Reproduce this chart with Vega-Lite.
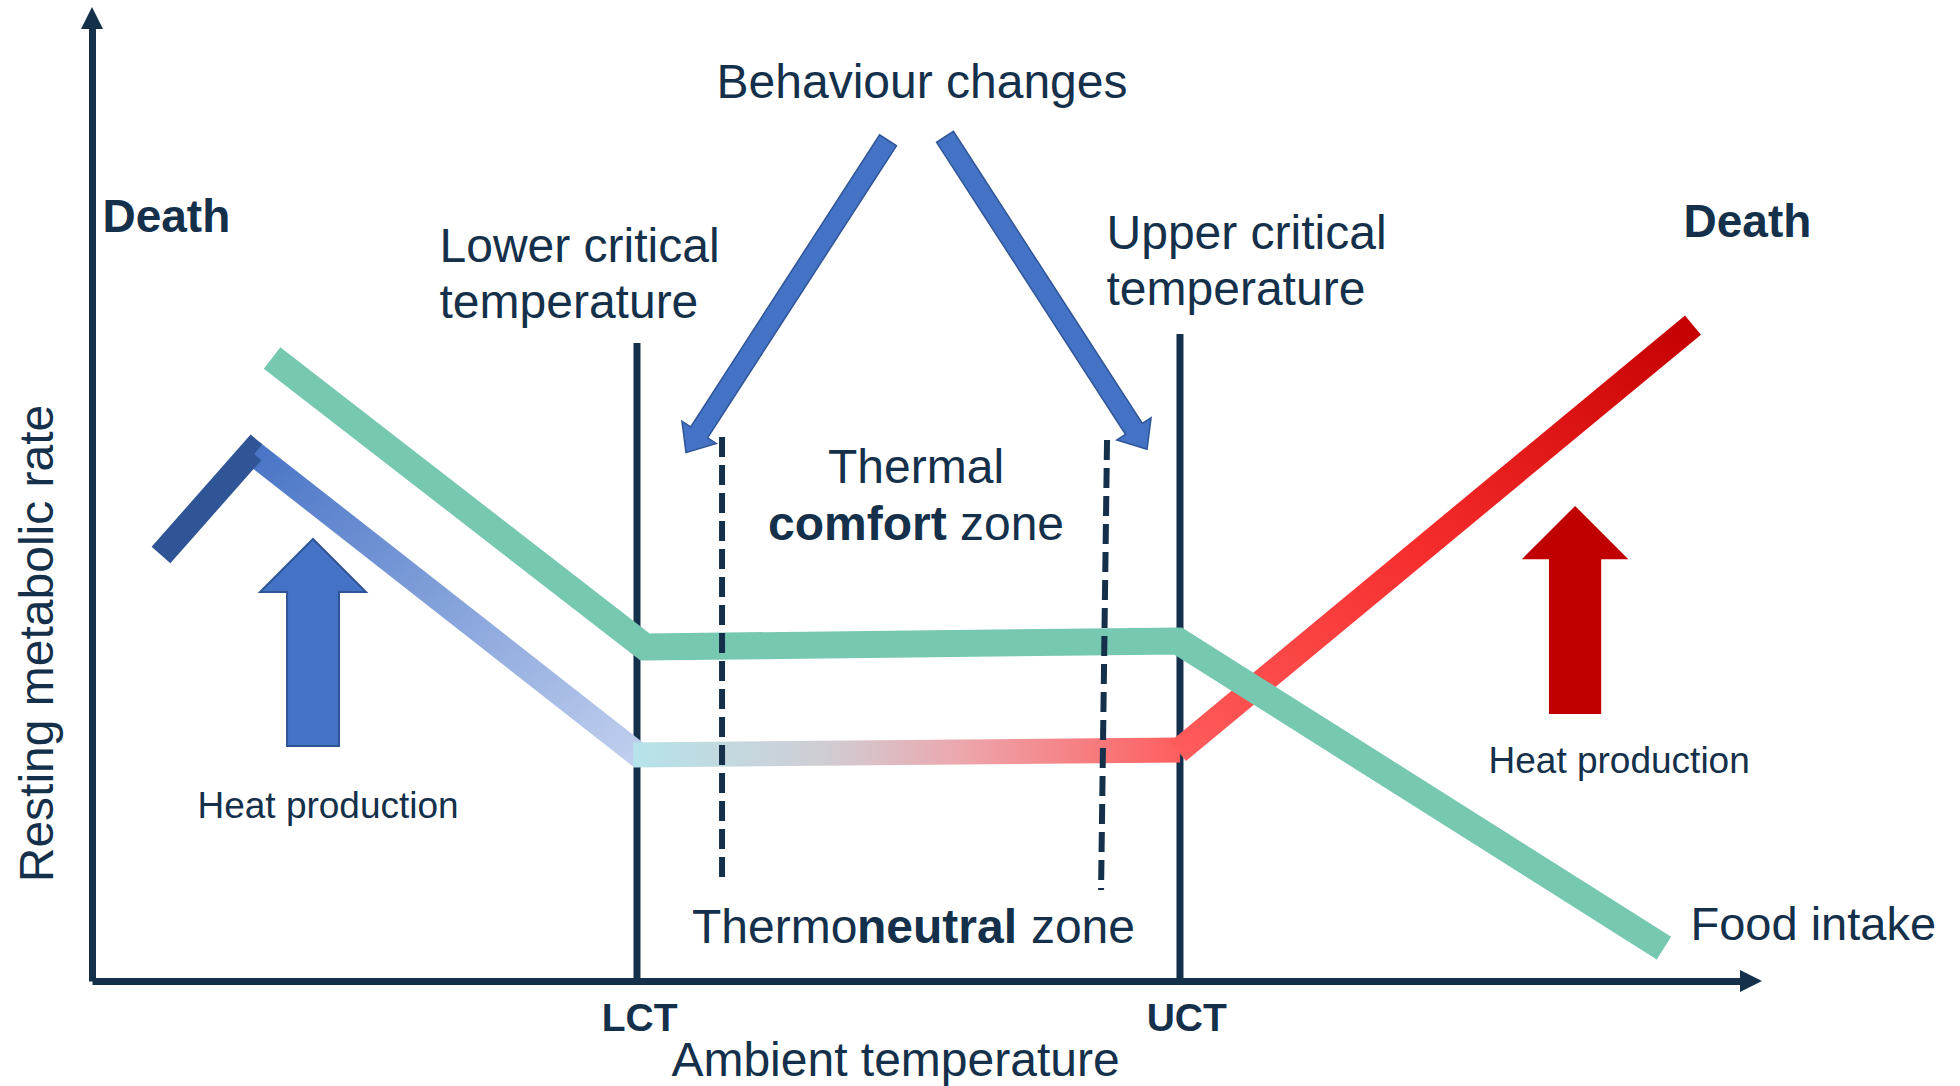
{
  "$schema": "https://vega.github.io/schema/vega-lite/v6.json",
  "width": 1658,
  "height": 961,
  "autosize": {"type": "none"},
  "padding": {"left": 92, "top": 20, "right": 210, "bottom": 105},
  "background": "white",
  "config": {"view": {"stroke": null}, "font": "Liberation Sans"},
  "datasets": {
    "solid": [
      {"name": "LCT", "x": 32.87, "y": 66.39, "y2": 0},
      {"name": "UCT", "x": 65.62, "y": 67.33, "y2": 0}
    ],
    "dashed": [
      {"name": "comfort low", "x": 38.0, "y": 56.6, "x2": 38.0, "y2": 9.99},
      {"name": "comfort high", "x": 61.22, "y": 56.3, "x2": 60.86, "y2": 9.47}
    ],
    "curves": [
      {"s": "food", "x": 10.86, "y": 64.83},
      {"s": "food", "x": 33.35, "y": 34.76},
      {"s": "food", "x": 65.5, "y": 35.38},
      {"s": "food", "x": 94.81, "y": 3.43},
      {"s": "cold", "x": 9.65, "y": 55.05},
      {"s": "cold", "x": 33.05, "y": 23.41},
      {"s": "dark", "x": 4.16, "y": 44.33},
      {"s": "dark", "x": 9.65, "y": 55.05},
      {"s": "dark", "x": 9.79, "y": 54.85},
      {"s": "warm", "x": 32.63, "y": 23.52},
      {"s": "warm", "x": 65.62, "y": 24.04},
      {"s": "hot", "x": 65.5, "y": 23.9},
      {"s": "hot", "x": 96.56, "y": 68.26}
    ],
    "arrows": [
      {"name": "yhead", "x": 0, "y": 100.2},
      {"name": "xhead", "x": 100.06, "y": 0},
      {"name": "heatCold", "x": 13.33, "y": 35.22},
      {"name": "heatHot", "x": 89.45, "y": 38.61},
      {"name": "behLeft", "x": 41.92, "y": 71.23},
      {"name": "behRight", "x": 57.54, "y": 71.59}
    ],
    "labels": [
      {"g": "c48", "text": "Behaviour changes", "x": 50.06, "y": 91.88},
      {"g": "c48", "text": "Thermal", "x": 49.7, "y": 51.82},
      {"g": "l48", "text": "Lower critical", "x": 20.96, "y": 74.82},
      {"g": "l48", "text": "temperature", "x": 20.96, "y": 68.99},
      {"g": "l48", "text": "Upper critical", "x": 61.19, "y": 76.17},
      {"g": "l48", "text": "temperature", "x": 61.19, "y": 70.34},
      {"g": "l48", "text": "zone", "x": 52.35, "y": 45.89},
      {"g": "l48", "text": "Thermo", "x": 36.19, "y": 3.95},
      {"g": "l48", "text": "zone", "x": 56.63, "y": 3.95},
      {"g": "bold46", "text": "Death", "x": 0.63, "y": 77.94},
      {"g": "bold46", "text": "Death", "x": 95.99, "y": 77.42},
      {"g": "l47", "text": "Food intake", "x": 96.41, "y": 4.27},
      {"g": "b48", "text": "comfort", "x": 40.77, "y": 45.89},
      {"g": "b48", "text": "neutral", "x": 46.14, "y": 3.95},
      {"g": "l37", "text": "Heat production", "x": 6.36, "y": 16.96},
      {"g": "l37", "text": "Heat production", "x": 84.23, "y": 21.64}
    ]
  },
  "encoding": {
    "x": {
      "field": "x",
      "type": "quantitative",
      "scale": {"domain": [0, 100], "nice": false, "zero": false},
      "axis": {
        "values": [33.0, 66.0],
        "labelExpr": "datum.value < 50 ? 'LCT' : 'UCT'",
        "ticks": false,
        "tickSize": 0,
        "grid": false,
        "domainColor": "#14304a",
        "domainWidth": 7,
        "labelFont": "Liberation Sans Narrow, Liberation Sans",
        "labelFontWeight": "bold",
        "labelFontSize": 39,
        "labelColor": "#14304a",
        "labelPadding": 49,
        "labelBaseline": "alphabetic",
        "labelFlush": false,
        "labelOverlap": false,
        "title": "Ambient temperature",
        "titleFont": "Liberation Sans",
        "titleFontSize": 48,
        "titleFontWeight": "normal",
        "titleColor": "#14304a",
        "titleX": 803,
        "titleY": 94,
        "titleAlign": "center",
        "titleBaseline": "alphabetic"
      }
    },
    "y": {
      "field": "y",
      "type": "quantitative",
      "scale": {"domain": [0, 100], "nice": false, "zero": false},
      "axis": {
        "ticks": false,
        "labels": false,
        "grid": false,
        "domainColor": "#14304a",
        "domainWidth": 7,
        "title": "Resting metabolic rate",
        "titleFont": "Liberation Sans",
        "titleFontSize": 48,
        "titleFontWeight": "normal",
        "titleColor": "#14304a",
        "titleX": -40,
        "titleY": 623,
        "titleAngle": -90,
        "titleAlign": "center",
        "titleBaseline": "alphabetic"
      }
    }
  },
  "layer": [
    {
      "data": {"name": "solid"},
      "mark": {"type": "rule", "stroke": "#14304a", "strokeWidth": 7},
      "encoding": {"y2": {"field": "y2"}}
    },
    {
      "data": {"name": "curves"},
      "transform": [{"filter": "datum.s == 'cold'"}],
      "mark": {"type": "line", "strokeWidth": 25, "stroke": {"gradient": "linear", "x1": 0, "y1": 0, "x2": 1, "y2": 1, "stops": [{"offset": 0, "color": "#4874c6"}, {"offset": 1, "color": "#c0cfee"}]}}
    },
    {
      "data": {"name": "curves"},
      "transform": [{"filter": "datum.s == 'dark'"}],
      "mark": {"type": "line", "strokeWidth": 25, "stroke": "#2f5597", "strokeJoin": "miter"}
    },
    {
      "data": {"name": "curves"},
      "transform": [{"filter": "datum.s == 'warm'"}],
      "mark": {"type": "line", "strokeWidth": 25, "stroke": {"gradient": "linear", "x1": 0, "y1": 0, "x2": 1, "y2": 0, "stops": [{"offset": 0, "color": "#b6e3ea"}, {"offset": 0.35, "color": "#d0cdd4"}, {"offset": 0.6, "color": "#eca7ad"}, {"offset": 1, "color": "#ff5e5e"}]}}
    },
    {
      "data": {"name": "curves"},
      "transform": [{"filter": "datum.s == 'hot'"}],
      "mark": {"type": "line", "strokeWidth": 25, "stroke": {"gradient": "linear", "x1": 0, "y1": 1, "x2": 1, "y2": 0, "stops": [{"offset": 0, "color": "#ff5c5c"}, {"offset": 0.5, "color": "#f52a2a"}, {"offset": 1, "color": "#c50000"}]}}
    },
    {
      "data": {"name": "curves"},
      "transform": [{"filter": "datum.s == 'food'"}],
      "mark": {"type": "line", "strokeWidth": 27, "stroke": "#76c8b0", "strokeJoin": "miter"}
    },
    {
      "data": {"name": "dashed"},
      "mark": {"type": "rule", "stroke": "#14304a", "strokeWidth": 6, "strokeDash": [20, 8]},
      "encoding": {"x2": {"field": "x2"}, "y2": {"field": "y2"}}
    },
    {
      "data": {"name": "arrows"},
      "transform": [{"filter": "datum.name == 'yhead'"}],
      "mark": {"type": "point", "shape": "M0,-1L1,1L-1,1Z", "size": 484, "filled": true, "opacity": 1, "fill": "#14304a", "strokeWidth": 0, "angle": 0}
    },
    {
      "data": {"name": "arrows"},
      "transform": [{"filter": "datum.name == 'xhead'"}],
      "mark": {"type": "point", "shape": "M0,-1L1,1L-1,1Z", "size": 484, "filled": true, "opacity": 1, "fill": "#14304a", "strokeWidth": 0, "angle": 90}
    },
    {
      "data": {"name": "arrows"},
      "transform": [{"filter": "datum.name == 'heatCold'"}],
      "mark": {"type": "point", "shape": "M0,-1L0.512,-0.488L0.251,-0.488L0.251,1L-0.251,1L-0.251,-0.488L-0.512,-0.488Z", "size": 42849, "filled": true, "opacity": 1, "fill": "#4472c4", "stroke": "#2f5597", "strokeWidth": 2}
    },
    {
      "data": {"name": "arrows"},
      "transform": [{"filter": "datum.name == 'heatHot'"}],
      "mark": {"type": "point", "shape": "M0,-1L0.512,-0.488L0.251,-0.488L0.251,1L-0.251,1L-0.251,-0.488L-0.512,-0.488Z", "size": 43264, "filled": true, "opacity": 1, "fill": "#c00000", "strokeWidth": 0}
    },
    {
      "data": {"name": "arrows"},
      "transform": [{"filter": "datum.name == 'behLeft'"}],
      "mark": {"type": "point", "shape": "M0,-1L0.11,-0.87L0.054,-0.87L0.054,1L-0.054,1L-0.054,-0.87L-0.11,-0.87Z", "size": 138384, "filled": true, "opacity": 1, "fill": "#4472c4", "stroke": "#2f5597", "strokeWidth": 1.5, "angle": 212.9}
    },
    {
      "data": {"name": "arrows"},
      "transform": [{"filter": "datum.name == 'behRight'"}],
      "mark": {"type": "point", "shape": "M0,-1L0.11,-0.87L0.054,-0.87L0.054,1L-0.054,1L-0.054,-0.87L-0.11,-0.87Z", "size": 138384, "filled": true, "opacity": 1, "fill": "#4472c4", "stroke": "#2f5597", "strokeWidth": 1.5, "angle": 147.1}
    },
    {
      "data": {"name": "labels"},
      "transform": [{"filter": "datum.g == 'c48'"}],
      "mark": {"type": "text", "align": "center", "baseline": "alphabetic", "fontSize": 48, "font": "Liberation Sans", "color": "#14304a"},
      "encoding": {"text": {"field": "text"}}
    },
    {
      "data": {"name": "labels"},
      "transform": [{"filter": "datum.g == 'l48'"}],
      "mark": {"type": "text", "align": "left", "baseline": "alphabetic", "fontSize": 48, "font": "Liberation Sans", "color": "#14304a"},
      "encoding": {"text": {"field": "text"}}
    },
    {
      "data": {"name": "labels"},
      "transform": [{"filter": "datum.g == 'bold46'"}],
      "mark": {"type": "text", "align": "left", "baseline": "alphabetic", "fontSize": 46, "fontWeight": "bold", "font": "Liberation Sans", "color": "#14304a"},
      "encoding": {"text": {"field": "text"}}
    },
    {
      "data": {"name": "labels"},
      "transform": [{"filter": "datum.g == 'l47'"}],
      "mark": {"type": "text", "align": "left", "baseline": "alphabetic", "fontSize": 47, "font": "Liberation Sans", "color": "#14304a"},
      "encoding": {"text": {"field": "text"}}
    },
    {
      "data": {"name": "labels"},
      "transform": [{"filter": "datum.g == 'b48'"}],
      "mark": {"type": "text", "align": "left", "baseline": "alphabetic", "fontSize": 48, "fontWeight": "bold", "font": "Liberation Sans", "color": "#14304a"},
      "encoding": {"text": {"field": "text"}}
    },
    {
      "data": {"name": "labels"},
      "transform": [{"filter": "datum.g == 'l37'"}],
      "mark": {"type": "text", "align": "left", "baseline": "alphabetic", "fontSize": 37, "font": "Liberation Sans", "color": "#14304a"},
      "encoding": {"text": {"field": "text"}}
    }
  ]
}
